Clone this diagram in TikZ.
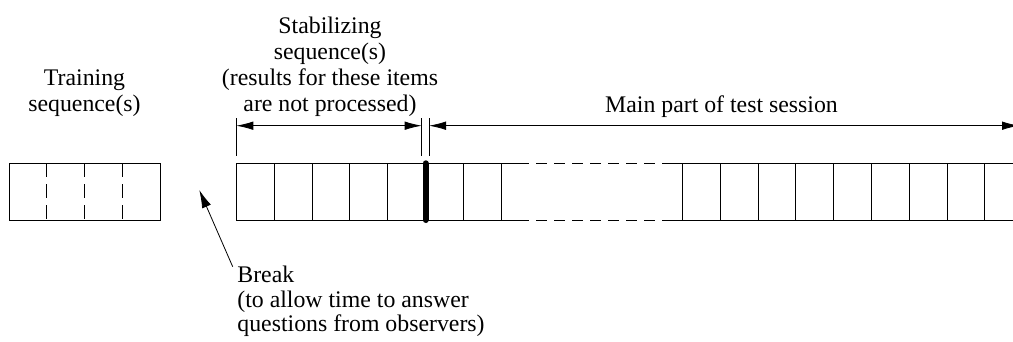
\documentclass[tikz,border=0pt]{standalone}
\usepackage{fontspec}
\setmainfont{Liberation Serif}
\usetikzlibrary{arrows.meta}
\begin{document}
\begin{tikzpicture}[x=1pt,y=-1pt,line width=0.8pt,
  txt/.style={font=\fontsize{23.8}{25.9}\selectfont, inner sep=0pt, align=center},
  brktxt/.style={font=\fontsize{23.8}{24.7}\selectfont, inner sep=0pt, align=left},
  dimarrow/.style={{Latex[length=17pt,width=8.5pt]}-{Latex[length=17pt,width=8.5pt]}},
  ptrarrow/.style={-{Latex[length=18pt,width=9.5pt]}},
  celldash/.style={dash pattern=on 14pt off 7pt},
  gapdash/.style={dash pattern=on 11pt off 7pt},
  bar/.style={line width=6pt, line cap=round}]
\clip (0,0) rectangle (1013,341);
% texts (base = baseline of last line)
\node[txt, anchor=base] (train) at (84.5,111.7) {Training\\sequence(s)};
\node[txt, anchor=base] (stab) at (330,111.5) {Stabilizing\\sequence(s)\\(results for these items\\are not processed)};
\node[txt, anchor=base] (main) at (721.5,112) {Main part of test session};
\node[brktxt, anchor=base west] (brk) at (237,331.7) {Break\\(to allow time to answer\\questions from observers)};
% training box
\draw (9,163.3) rectangle (160,220);
\foreach \x in {46.75,84.5,122.25} \draw[celldash] (\x,163.3) -- (\x,220);
% main sequence
\draw (518,163.3) -- (236.3,163.3) -- (236.3,220) -- (518,220);
\draw[gapdash] (518,163.3) -- (663,163.3);
\draw[gapdash] (518,220) -- (663,220);
\draw (663,163.3) -- (1013,163.3);
\draw (663,220) -- (1013,220);
\foreach \x in {274.1,311.9,349.7,387.5,463.1,500.9,682.3,720.1,757.9,795.7,833.5,871.3,909.1,946.9,984.7}
  \draw (\x,163.3) -- (\x,220);
\draw[bar] (425.5,163.3) -- (425.5,220);
% dimension lines
\coordinate (e1t) at (236.3,118); \coordinate (e1b) at (236.3,156);
\coordinate (e2t) at (421.7,118); \coordinate (e2b) at (421.7,156);
\coordinate (e3t) at (429,118);   \coordinate (e3b) at (429,156);
\draw (e1t) -- (e1b);
\draw (e2t) -- (e2b);
\draw (e3t) -- (e3b);
\coordinate (d1a) at (236.3,125.7); \coordinate (d1b) at (421.7,125.7);
\coordinate (d2a) at (429,125.7);   \coordinate (d2b) at (1019,125.7);
\draw[dimarrow] (d1a) -- (d1b);
\draw[dimarrow] (d2a) -- (d2b);
% break pointer
\coordinate (brktail) at (232.7,266.7);
\coordinate (brktip) at (199.3,190);
\draw[ptrarrow] (brktail) -- (brktip);
\end{tikzpicture}
\end{document}
